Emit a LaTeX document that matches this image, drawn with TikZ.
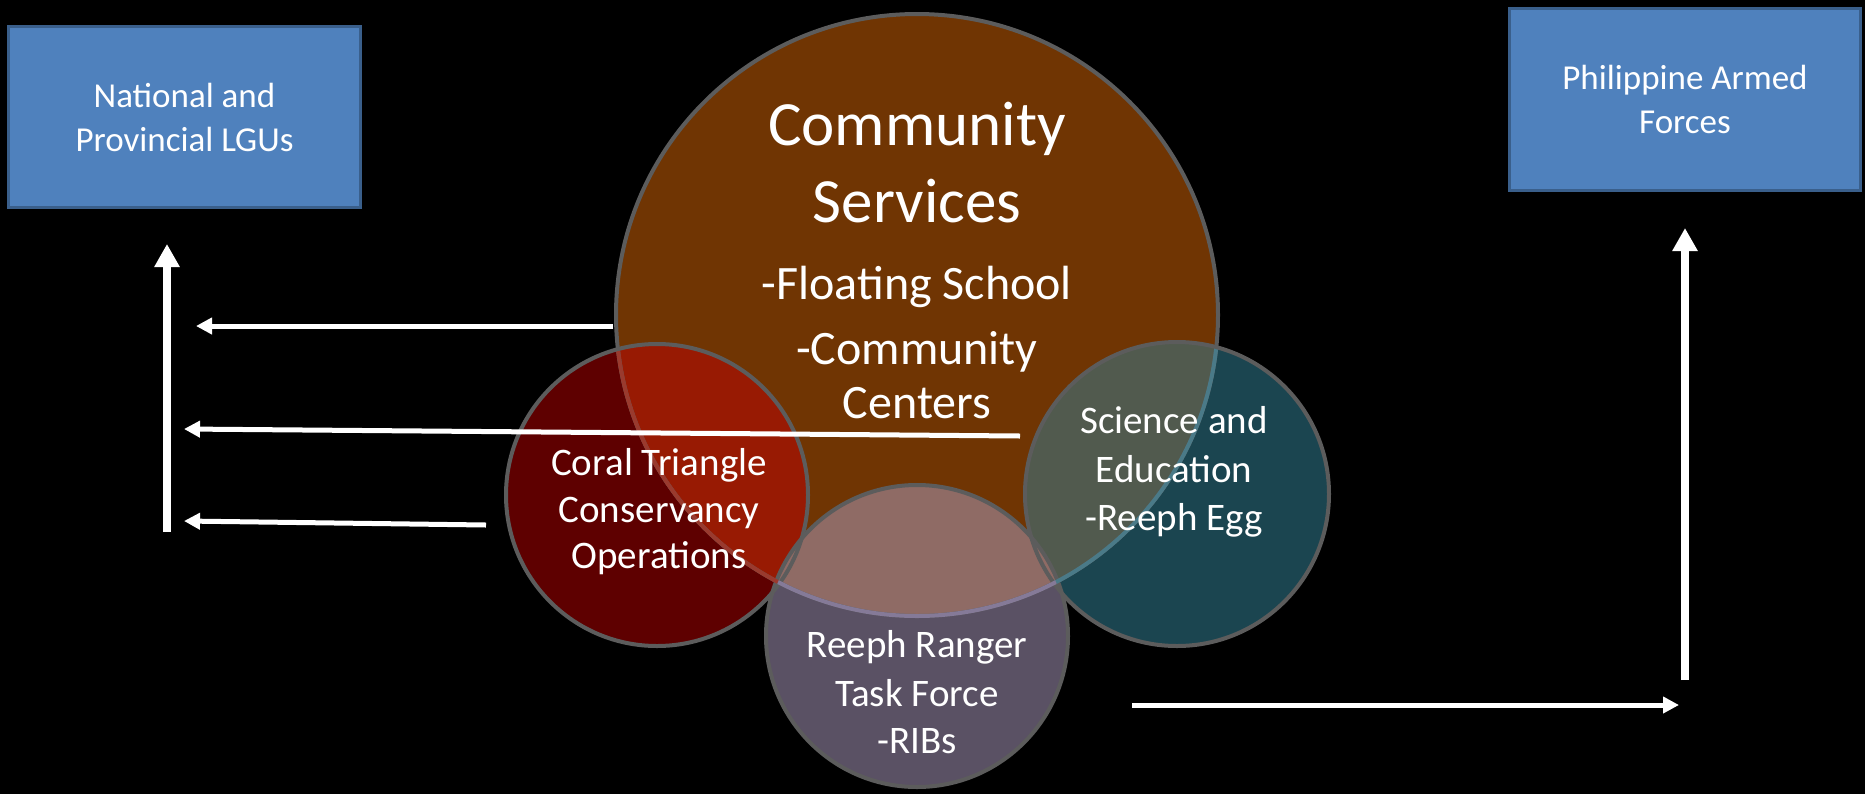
\documentclass[tikz,border=0pt]{standalone}
\usepackage{fontspec}
\setmainfont{Carlito}
\usetikzlibrary{arrows.meta}

\definecolor{boxfill}{HTML}{4F81BD}
\definecolor{boxedge}{HTML}{3A5F8B}
\definecolor{csfill}{HTML}{703503}
\definecolor{ctfill}{HTML}{5E0000}
\definecolor{sefill}{HTML}{1B4550}
\definecolor{rrfill}{HTML}{5A5164}
\definecolor{ctmix}{HTML}{981A03}
\definecolor{semix}{HTML}{515A4E}
\definecolor{rrmix}{HTML}{8F6B65}
\definecolor{ring}{HTML}{5C5C5C}
\definecolor{ctring}{HTML}{9A3A2E}
\definecolor{sering}{HTML}{4A7A88}
\definecolor{rrring}{HTML}{857A98}

\tikzset{
  orgbox/.style={draw=boxedge, fill=boxfill, line width=1.5pt, inner sep=0pt,
    text=white, align=center, font=\fontsize{17.5pt}{22pt}\selectfont},
  lbl/.style={text=white, anchor=base, inner sep=0pt},
  bigtxt/.style={font=\fontsize{31.5pt}{38pt}\selectfont},
  subtxt/.style={font=\fontsize{24pt}{29pt}\selectfont},
  circtxt/.style={font=\fontsize{19.5pt}{24pt}\selectfont},
  ringline/.style={draw=ring, line width=2pt},
  bigarrow/.style={draw=white, line width=4pt, -{Triangle[width=12pt,length=11.5pt]}},
  thinarrow/.style={draw=white, line width=2.5pt, -{Triangle[width=8pt,length=8pt]}}
}

\begin{document}
\begin{tikzpicture}[x=0.5pt,y=-0.5pt]
  % canvas
  \fill[black] (0,0) rectangle (1865,794);
  \useasboundingbox (0,0) rectangle (1865,794);

  % circle centres
  \coordinate (cs) at (917,315);
  \coordinate (ct) at (657,495);
  \coordinate (se) at (1177,494);
  \coordinate (rr) at (917,636);

  % circle fills
  \fill[csfill] (cs) circle[radius=150.5pt];
  \fill[ctfill] (ct) circle[radius=75.5pt];
  \fill[sefill] (se) circle[radius=76pt];
  \fill[rrfill] (rr) circle[radius=75.5pt];

  % overlaps with Community Services
  \begin{scope}
    \clip (cs) circle[radius=150.5pt];
    \fill[ctmix] (ct) circle[radius=75.5pt];
    \fill[semix] (se) circle[radius=76pt];
    \fill[rrmix] (rr) circle[radius=75.5pt];
  \end{scope}

  % outlines
  \draw[ringline] (cs) circle[radius=150.5pt];
  \draw[ringline] (ct) circle[radius=75.5pt];
  \draw[ringline] (se) circle[radius=76pt];
  \draw[ringline] (rr) circle[radius=75.5pt];
  \begin{scope}
    \clip (ct) circle[radius=74.5pt];
    \draw[draw=ctring, line width=2pt] (cs) circle[radius=150.5pt];
  \end{scope}
  \begin{scope}
    \clip (se) circle[radius=75pt];
    \draw[draw=sering, line width=2pt] (cs) circle[radius=150.5pt];
  \end{scope}
  \begin{scope}
    \clip (rr) circle[radius=74.5pt];
    \draw[draw=rrring, line width=2pt] (cs) circle[radius=150.5pt];
  \end{scope}

  % circle texts
  \node[lbl, bigtxt] (cs1) at (917,145) {Community};
  \node[lbl, bigtxt] (cs2) at (917,222) {Services};
  \node[lbl, subtxt] (cs3) at (917,299) {-Floating School};
  \node[lbl, subtxt] (cs4) at (917,364) {-Community};
  \node[lbl, subtxt] (cs5) at (917,418) {Centers};

  \node[lbl, circtxt] (ct1) at (659,475) {Coral Triangle};
  \node[lbl, circtxt] (ct2) at (659,522) {Conservancy};
  \node[lbl, circtxt] (ct3) at (659,568) {Operations};

  \node[lbl, circtxt] (se1) at (1174,433) {Science and};
  \node[lbl, circtxt] (se2) at (1174,482) {Education};
  \node[lbl, circtxt] (se3) at (1174,530) {-Reeph Egg};

  \node[lbl, circtxt] (rr1) at (917,657) {Reeph Ranger};
  \node[lbl, circtxt] (rr2) at (917,706) {Task Force};
  \node[lbl, circtxt] (rr3) at (917,753) {-RIBs};

  % partner boxes
  \node[orgbox, minimum width=176pt, minimum height=90.5pt] (lgu) at (184.5,117)
    {National and\\Provincial LGUs};
  \node[orgbox, minimum width=175.5pt, minimum height=91pt] (afp) at (1685,99.5)
    {Philippine Armed\\Forces};

  % arrow end points
  \coordinate (lv0) at (167,532);  \coordinate (lv1) at (167,244);
  \coordinate (a10) at (613,326);  \coordinate (a11) at (196,326);
  \coordinate (a20) at (1020,436); \coordinate (a21) at (184,429);
  \coordinate (a30) at (486,525);  \coordinate (a31) at (184,521);
  \coordinate (rh0) at (1132,705); \coordinate (rh1) at (1679,705);
  \coordinate (rv0) at (1685,680); \coordinate (rv1) at (1685,228);

  % arrows
  \draw[bigarrow] (lv0) -- (lv1);
  \draw[thinarrow] (a10) -- (a11);
  \draw[thinarrow] (a20) -- (a21);
  \draw[thinarrow] (a30) -- (a31);
  \draw[thinarrow] (rh0) -- (rh1);
  \draw[bigarrow] (rv0) -- (rv1);
\end{tikzpicture}
\end{document}
